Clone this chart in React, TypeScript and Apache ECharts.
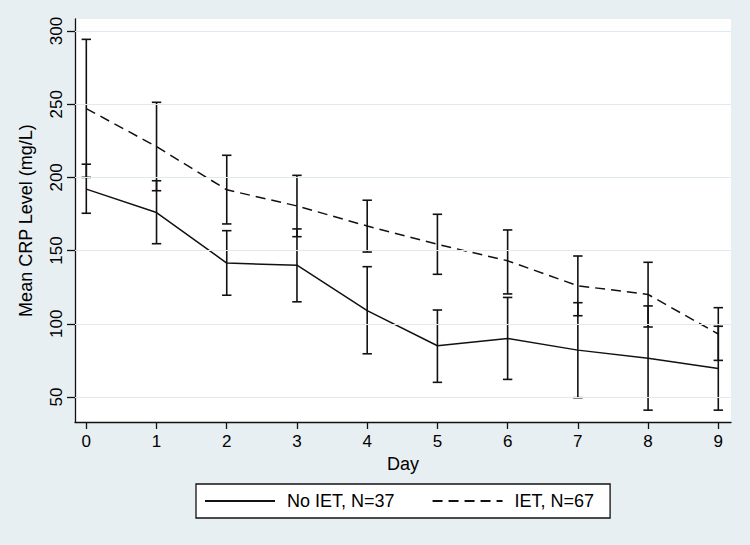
import React, { useEffect, useRef } from "react";
import * as echarts from "echarts";

const days = [0, 1, 2, 3, 4, 5, 6, 7, 8, 9];
const yTicks = [50, 100, 150, 200, 250, 300];

const noIetName = "No IET, N=37";
const noIetMean = [192, 176, 141.5, 140, 109, 85, 90, 82, 76.5, 69.5];
const noIetLow = [175.5, 154.7, 119.5, 115, 79.5, 60, 62, 49.5, 41, 41];
const noIetHigh = [209, 197.7, 163.6, 164.8, 139, 109.4, 118, 114.4, 112.2, 98.3];

const ietName = "IET, N=67";
const ietMean = [247, 221, 191.5, 180.5, 166.8, 154.3, 143, 126, 120, 93];
const ietLow = [200, 190.9, 168.2, 159.5, 149, 133.8, 120.4, 105.5, 97.8, 75];
const ietHigh = [294.3, 251.3, 215.1, 201.4, 184.4, 174.8, 164.1, 146.3, 142, 111];

const FONT = "Liberation Sans, Arial, Helvetica, sans-serif";
const INK = "#111111";

function errorSeries(name: string, lows: number[], highs: number[]) {
  return {
    name,
    type: "custom",
    z: 3,
    encode: { x: 0, y: [1, 2] },
    data: days.map((d, i) => [d, lows[i], highs[i]]),
    renderItem: (params: any, api: any) => {
      const x = api.value(0);
      const lo = api.coord([x, api.value(1)]);
      const hi = api.coord([x, api.value(2)]);
      const hw = 4.7;
      const style = { stroke: INK, lineWidth: 1.6 };
      return {
        type: "group",
        children: [
          { type: "line", shape: { x1: lo[0], y1: lo[1], x2: hi[0], y2: hi[1] }, style },
          { type: "line", shape: { x1: lo[0] - hw, y1: lo[1], x2: lo[0] + hw, y2: lo[1] }, style },
          { type: "line", shape: { x1: hi[0] - hw, y1: hi[1], x2: hi[0] + hw, y2: hi[1] }, style },
        ],
      };
    },
  };
}

export default function App() {
  const ref = useRef<HTMLDivElement>(null);
  useEffect(() => {
    document.body.style.margin = "0";
    const chart = echarts.init(ref.current!, null, { renderer: "svg" });
    chart.setOption({
      animation: false,
      backgroundColor: "#e8eff2",
      textStyle: { fontFamily: FONT },
      grid: {
        left: 75,
        top: 19,
        width: 656,
        height: 403,
        show: true,
        backgroundColor: "#ffffff",
        borderWidth: 0,
      },
      xAxis: {
        type: "value",
        min: -0.161,
        max: 9.181,
        name: "Day",
        nameLocation: "middle",
        nameGap: 32,
        nameTextStyle: { fontSize: 18, color: "#000", fontFamily: FONT },
        axisLine: { show: true, onZero: false, lineStyle: { color: INK, width: 1.3 } },
        axisTick: { show: true, length: 7, customValues: days, lineStyle: { color: INK, width: 1.3 } },
        axisLabel: { customValues: days, fontSize: 17, color: "#000", margin: 11, fontFamily: FONT },
        splitLine: { show: false },
      },
      yAxis: {
        type: "value",
        min: 32.9,
        max: 308.2,
        name: "Mean CRP Level (mg/L)",
        nameLocation: "middle",
        nameGap: 40,
        nameTextStyle: { fontSize: 18, color: "#000", fontFamily: FONT },
        axisLine: { show: true, onZero: false, lineStyle: { color: INK, width: 1.3 } },
        axisTick: { show: true, length: 8, customValues: yTicks, lineStyle: { color: INK, width: 1.3 } },
        axisLabel: { customValues: yTicks, rotate: 90, fontSize: 17, color: "#000", margin: 10, fontFamily: FONT },
        splitLine: { show: false },
      },
      legend: {
        data: [noIetName, ietName],
        left: 196,
        top: 484,
        orient: "horizontal",
        backgroundColor: "#ffffff",
        borderColor: INK,
        borderWidth: 1.3,
        borderRadius: 0,
        padding: [8, 16, 8, 8],
        itemWidth: 70,
        itemHeight: 18,
        itemGap: 37,
        itemStyle: { color: "transparent", borderColor: "transparent", borderWidth: 0, opacity: 0 },
        textStyle: { fontSize: 18, color: "#000", fontFamily: FONT, padding: [0, 0, 0, 7] },
        selectedMode: false,
      },
      series: [
        {
          name: "grid",
          type: "line",
          data: [],
          z: 1,
          silent: true,
          markLine: {
            silent: true,
            symbol: "none",
            label: { show: false },
            lineStyle: { color: "#e0e9ee", width: 1, type: "solid" },
            data: yTicks.map((v) => ({ yAxis: v })),
          },
        },
        errorSeries("noIET-ci", noIetLow, noIetHigh),
        errorSeries("IET-ci", ietLow, ietHigh),
        {
          name: noIetName,
          type: "line",
          z: 4,
          symbol: "none",
          data: days.map((d, i) => [d, noIetMean[i]]),
          lineStyle: { color: INK, width: 1.5, type: "solid" },
          itemStyle: { color: INK },
        },
        {
          name: ietName,
          type: "line",
          z: 4,
          symbol: "none",
          data: days.map((d, i) => [d, ietMean[i]]),
          lineStyle: { color: INK, width: 1.5, type: [10, 6] },
          itemStyle: { color: INK },
        },
      ],
    });
    return () => chart.dispose();
  }, []);
  return (
    <div
      ref={ref}
      style={{ position: "fixed", left: 0, top: 0, width: 750, height: 545 }}
    />
  );
}
